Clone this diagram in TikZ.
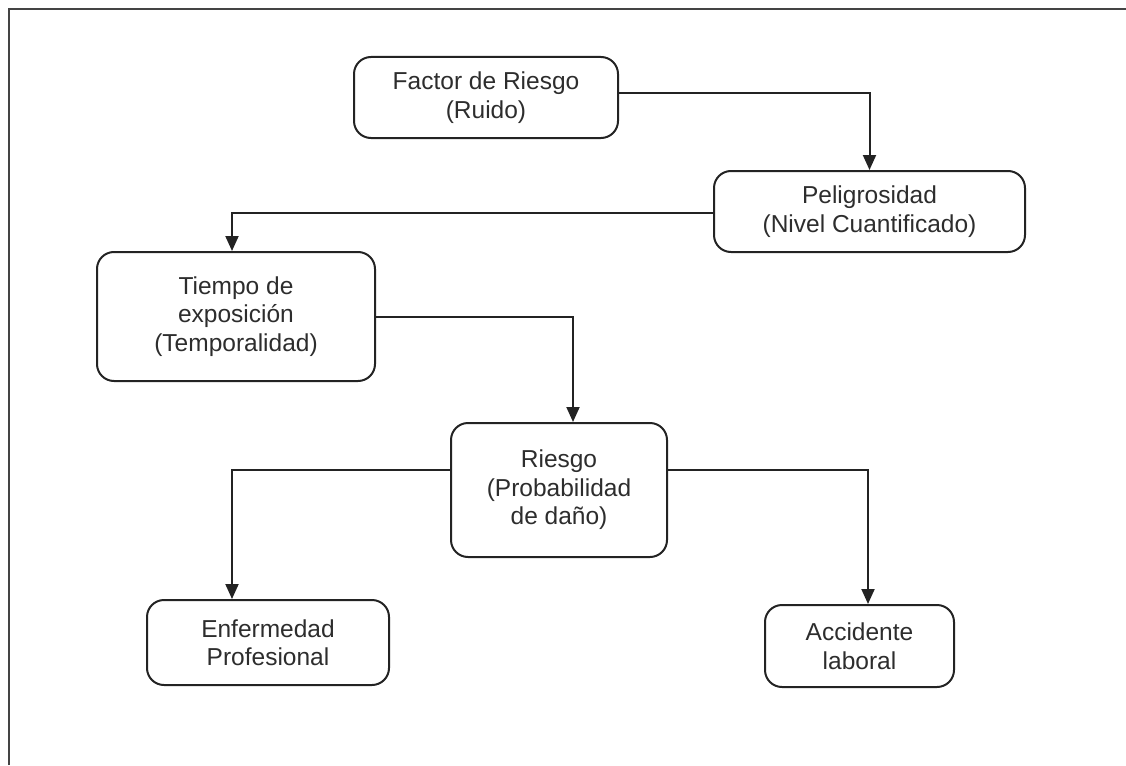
\documentclass[tikz,border=0pt]{standalone}
\usepackage{fontspec}
\setmainfont{Liberation Sans}
\usepackage{tikz}
\usetikzlibrary{arrows.meta,calc}
\definecolor{lineaGris}{RGB}{35,35,35}
\definecolor{textoGris}{RGB}{45,45,45}

\begin{document}
\begin{tikzpicture}[x=1pt,y=-1pt,
  caja/.style={rectangle,rounded corners=17pt,draw=lineaGris,line width=2pt,
               align=center,inner sep=0pt,text=textoGris,
               font=\fontsize{24.5}{28.5}\selectfont},
  flecha/.style={draw=lineaGris,line width=2pt,
                 -{Triangle[length=15pt,width=13pt]}},
  marco/.style={draw=lineaGris!85,line width=2.2pt}]
\useasboundingbox (0,0) rectangle (1126,765);
\draw[marco] (9,765) -- (9,9) -- (1126,9);
\foreach \nom/\x/\y/\w/\h/\txt in {
  factor/486/97.5/264/81/{Factor de Riesgo\\(Ruido)},
  peligro/869.5/211.5/311/81/{Peligrosidad\\(Nivel Cuantificado)},
  tiempo/236/316.5/278/129/{Tiempo de\\exposición\\(Temporalidad)},
  riesgo/559/490/216/134/{Riesgo\\(Probabilidad\\de daño)},
  enferm/268/642.5/242/85/{Enfermedad\\Profesional},
  accid/859.5/646/189/82/{Accidente\\laboral}}
{
  \node[caja,minimum width=\w pt,minimum height=\h pt] (\nom) at (\x,\y) {\txt};
}
\draw[flecha] ([yshift=4pt]factor.east) -| (peligro.north);
\draw[flecha] ([yshift=-1.5pt]peligro.west) -| ([xshift=-4pt]tiempo.north);
\draw[flecha] (tiempo.east) -| ([xshift=14pt]riesgo.north);
\draw[flecha] ([yshift=20pt]riesgo.west) -| ([xshift=-36pt]enferm.north);
\draw[flecha] ([yshift=20pt]riesgo.east) -| ([xshift=8.5pt]accid.north);
\end{tikzpicture}
\end{document}
